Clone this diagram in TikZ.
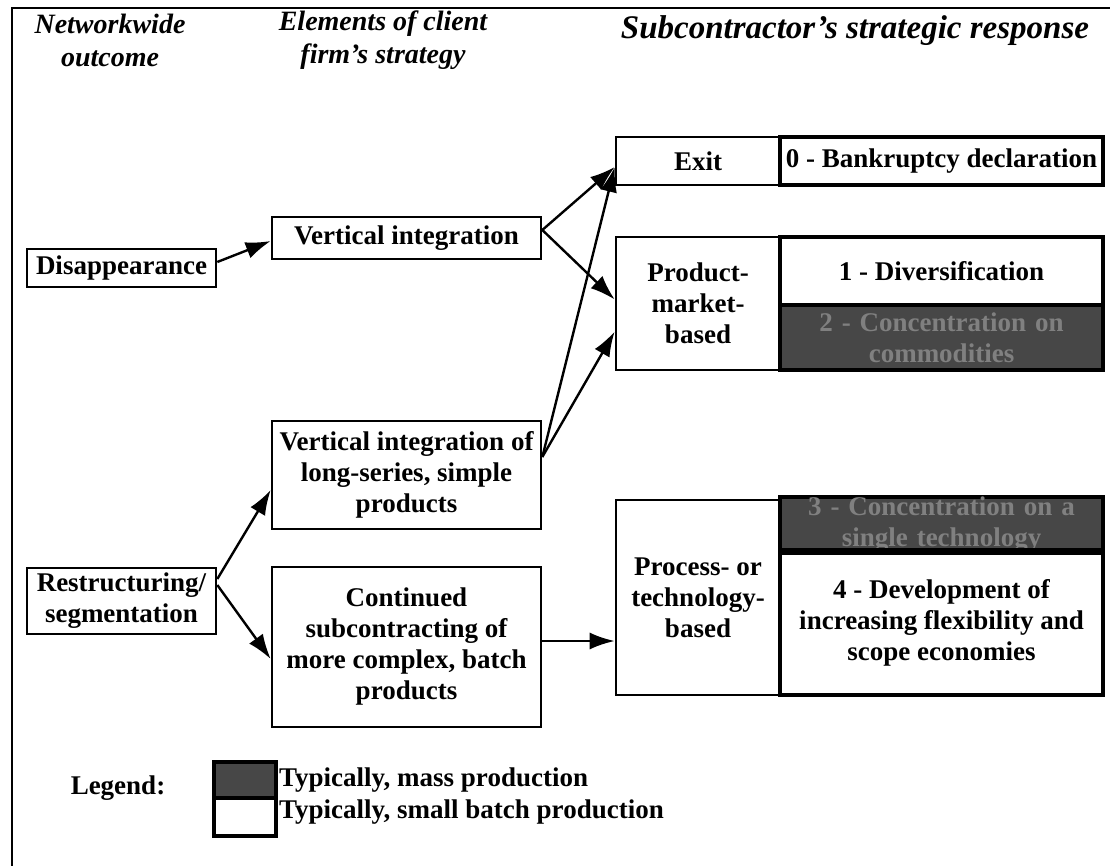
\documentclass[tikz,border=0pt]{standalone}
\usepackage{fontspec}
\setmainfont{Liberation Serif}
\usetikzlibrary{arrows.meta,calc}
\definecolor{shade}{gray}{0.28}
\definecolor{shadetext}{gray}{0.50}
\begin{document}
\begin{tikzpicture}[x=1pt,y=-1pt,
  box/.style={draw, line width=2.6pt, inner sep=0pt, align=center, font=\bfseries\fontsize{27}{31}\selectfont},
  rbox/.style={box, line width=3.6pt},
  gbox/.style={rbox, fill=shade, text=shadetext, text width=310pt},
  hdr/.style={font=\bfseries\itshape\fontsize{28}{33}\selectfont, align=center},
  txt/.style={font=\bfseries\fontsize{27}{31}\selectfont, inner sep=0pt},
  arr/.style={-{Latex[length=25pt,width=17pt]}, line width=2.4pt},
]
\useasboundingbox (0,0) rectangle (1110,866);
\draw[line width=2.6pt] (12,866) -- (12,8) -- (1110,8);

% headers
\node[hdr] (h1) at (110,40) {Networkwide\\outcome};
\node[hdr] (h2) at (383,40) {Elements of client\\firm's strategy};
\node[hdr, font=\bfseries\itshape\fontsize{33}{38}\selectfont] (h3) at (855,31) {Subcontractor's strategic response};

% left column
\node[box, minimum width=189pt, minimum height=38pt] (dis) at (121.5,268) {Disappearance};
\node[box, minimum width=189pt, minimum height=66pt] (res) at (121.5,601) {Restructuring/\\segmentation};

% middle column
\node[box, minimum width=269pt, minimum height=42pt] (vi) at (406.5,238) {Vertical integration};
\node[box, minimum width=269pt, minimum height=108pt] (vil) at (406.5,475) {Vertical integration of\\long-series, simple\\products};
\node[box, minimum width=269pt, minimum height=160pt] (con) at (406.5,647) {Continued\\subcontracting of\\more complex, batch\\products};

% right column
\node[box, minimum width=164pt, minimum height=48pt] (exit) at (698,161) {Exit};
\node[rbox, minimum width=323pt, minimum height=48pt] (bank) at (941.5,161) {0 - Bankruptcy declaration};

\node[box, minimum width=164pt, minimum height=133pt] (pm) at (698,303.5) {Product-\\market-\\based};
\node[rbox, minimum width=323pt, minimum height=68pt] (div) at (941.5,271) {1 - Diversification};
\node[gbox, minimum width=323pt, minimum height=65pt] (conc) at (941.5,337.5) {2 - Concentration on\\commodities};

\node[box, minimum width=164pt, minimum height=195pt] (proc) at (698,597.5) {Process- or\\technology-\\based};
\node[gbox, minimum width=323pt, minimum height=50pt] (spec) at (941.5,525) {3 - Concentration on a\\single technology};
\node[rbox, minimum width=323pt, minimum height=145pt] (dev) at (941.5,622.5) {4 - Development of\\increasing flexibility and\\scope economies};

% arrows
\draw[arr] ([yshift=6pt]dis.east) -- ([yshift=-3pt]vi.west);
\draw[arr] ([yshift=8pt]vi.east) -- ([yshift=-6pt]exit.west);
\draw[arr] ([yshift=8pt]vi.east) -- ([yshift=4pt]pm.west);
\draw[arr] ([yshift=18pt]vil.east) -- ([yshift=-6pt]exit.west);
\draw[arr] ([yshift=18pt]vil.east) -- ([yshift=-28pt]pm.west);
\draw[arr] ([yshift=22pt]res.east) -- ([yshift=-15pt]vil.west);
\draw[arr] ([yshift=16pt]res.east) -- ([yshift=-12pt]con.west);
\draw[arr] ([yshift=6pt]con.east) -- ([yshift=6pt]con.east -| proc.west);

% legend
\node[txt] (leg) at (118,788) {Legend:};
\node[rbox, fill=shade, minimum width=62pt, minimum height=36pt] (lg) at (245,780) {};
\node[rbox, minimum width=62pt, minimum height=38pt] (lw) at (245,817) {};
\node[txt, anchor=west] (lt1) at (279,780) {Typically, mass production};
\node[txt, anchor=west] (lt2) at (279,812) {Typically, small batch production};
\end{tikzpicture}
\end{document}
